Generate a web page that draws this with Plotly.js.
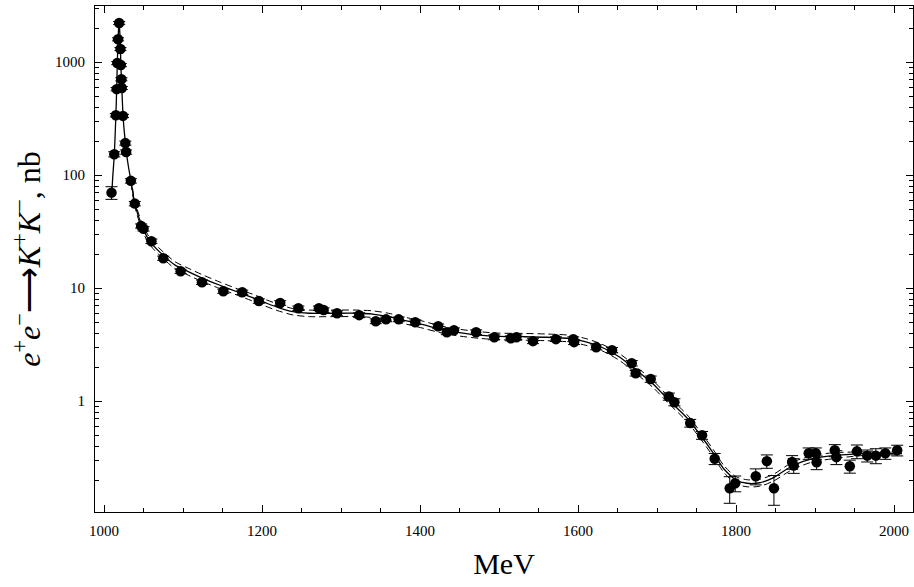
<!DOCTYPE html>
<html>
<head>
<meta charset="utf-8">
<script src="https://cdn.plot.ly/plotly-3.0.1.min.js"></script>
<style>body{margin:0;padding:0;background:#fff}#chart{width:914px;height:587px}</style>
</head>
<body>
<div id="chart"></div>
<script>
// Measured cross section points (MeV, nb) and errors
const dataE = [1009.5,1013,1015,1016,1016.8,1017.8,1019.2,1020.8,1021.3,1022,1022.5,1024,1027,1028,1034,1039,1047,1050,1060,1075,1097,1124,1151,1175,1196,1223,1246,1272,1278,1295,1323,1344,1357,1373,1394,1423,1434,1443,1471,1494,1515,1522,1543,1572,1594,1595,1623,1643,1668,1673,1692,1715,1722,1742,1757,1773,1792,1799,1825,1839,1848,1871,1873,1892,1901,1902,1925,1927,1944,1953,1966,1977,1989,2004];
const dataSigma = [70,153,339,576,980,1590,2215,1303,940,705,590,334,192,160,89,56,35.5,33.5,26,18.4,14.1,11.3,9.4,9.2,7.7,7.4,6.65,6.65,6.4,6.0,5.77,5.1,5.3,5.3,5.0,4.6,4.08,4.25,4.08,3.68,3.6,3.68,3.4,3.54,3.54,3.33,3.0,2.83,2.17,1.77,1.57,1.1,0.98,0.64,0.50,0.31,0.17,0.188,0.217,0.295,0.17,0.29,0.27,0.346,0.346,0.288,0.368,0.32,0.266,0.36,0.33,0.33,0.346,0.368];
const dataErr = [9,8,12,20,30,50,70,40,30,22,18,11,8,7,4,2.5,1.5,1.5,1.2,0.8,0.6,0.5,0.4,0.4,0.35,0.35,0.3,0.3,0.3,0.3,0.28,0.25,0.25,0.25,0.24,0.22,0.2,0.2,0.2,0.18,0.18,0.18,0.17,0.17,0.17,0.16,0.15,0.15,0.12,0.1,0.1,0.08,0.07,0.05,0.04,0.035,0.045,0.03,0.035,0.04,0.05,0.04,0.04,0.04,0.04,0.04,0.045,0.045,0.035,0.05,0.04,0.05,0.04,0.04];

// Fit curve (solid)
const fitE = [1009.5,1011,1013,1015,1016,1016.8,1017.8,1018.6,1019.3,1020.1,1020.8,1021.3,1022,1022.6,1024,1025.5,1027,1028.5,1031,1034,1039,1047,1055,1062,1075,1090,1105,1125,1147,1170,1189,1205,1219,1239,1260,1290,1320,1340,1360,1380,1404,1425,1450,1475,1500,1530,1560,1590,1610,1630,1653,1675,1695,1715,1738,1755,1771,1785,1800,1814,1830,1847,1872,1897,1923,1948,1973,2010];
const fitSigma = [62,95,150,335,570,970,1580,2050,2215,1750,1300,960,720,580,340,250,195,155,118,90,56,37,28,24,19.5,16,14.2,12.2,10.6,9.2,8.2,7.4,6.8,6.2,6.0,6.0,6.0,5.9,5.6,5.2,4.75,4.35,4.05,3.85,3.75,3.72,3.68,3.58,3.35,3.0,2.45,1.85,1.42,1.02,0.71,0.5,0.35,0.25,0.2,0.188,0.19,0.21,0.27,0.31,0.33,0.34,0.346,0.346];

// Error band (dashed)
const bandE = [1034,1039,1047,1055,1062,1075,1090,1105,1125,1147,1170,1189,1205,1219,1239,1260,1290,1320,1340,1360,1380,1404,1425,1450,1475,1500,1530,1560,1590,1610,1630,1653,1675,1695,1715,1738,1755,1771,1785,1800,1814,1830,1847,1872,1897,1923,1948,1973,2010];
const bandUpper = [96,59,39.5,30,25.7,20.9,17.1,15.2,13.1,11.3,9.8,8.8,7.9,7.3,6.6,6.4,6.4,6.4,6.3,6.0,5.55,5.1,4.65,4.33,4.12,4.0,3.98,3.93,3.83,3.58,3.2,2.62,1.98,1.52,1.09,0.76,0.535,0.375,0.268,0.215,0.202,0.204,0.225,0.29,0.33,0.35,0.355,0.357,0.357];
const bandLower = [85,53,34.5,26,22.4,18.2,14.9,13.2,11.4,9.9,8.6,7.65,6.9,6.35,5.8,5.6,5.6,5.6,5.5,5.2,4.85,4.42,4.05,3.77,3.6,3.5,3.47,3.43,3.34,3.12,2.8,2.28,1.72,1.32,0.95,0.66,0.465,0.325,0.233,0.186,0.175,0.177,0.196,0.25,0.29,0.31,0.325,0.335,0.335];

const font = 'Liberation Serif';

const traces = [
  {x: bandE, y: bandUpper, mode: 'lines', line: {color: '#000', width: 1, dash: '7px,4px', shape: 'spline', smoothing: 0.8}, hoverinfo: 'skip', showlegend: false},
  {x: bandE, y: bandLower, mode: 'lines', line: {color: '#000', width: 1, dash: '7px,4px', shape: 'spline', smoothing: 0.8}, hoverinfo: 'skip', showlegend: false},
  {x: fitE, y: fitSigma, mode: 'lines', line: {color: '#000', width: 1.3, shape: 'spline', smoothing: 0.6}, showlegend: false},
  {x: dataE, y: dataSigma, mode: 'markers', marker: {color: '#000', size: 10.5},
   error_y: {type: 'data', array: dataErr, visible: true, color: '#000', thickness: 1, width: 6}, showlegend: false}
];

const layout = {
  width: 914, height: 587,
  margin: {l: 95, r: 1, t: 6, b: 75},
  paper_bgcolor: '#fff', plot_bgcolor: '#fff',
  font: {family: font, color: '#000'},
  showlegend: false,
  xaxis: {
    range: [988.6, 2024], tick0: 1000, dtick: 200,
    ticks: 'inside', ticklen: 7, tickcolor: '#000', mirror: 'allticks',
    showline: true, linecolor: '#000', linewidth: 1, showgrid: false, zeroline: false,
    tickfont: {family: font, size: 15}, ticklabelstandoff: 5,
    minor: {dtick: 50, ticks: 'inside', ticklen: 4, tickcolor: '#000', showgrid: false},
    title: {text: 'MeV', font: {family: font, size: 30}, standoff: 14}
  },
  yaxis: {
    type: 'log', range: [-0.98, 3.496], dtick: 1, exponentformat: 'none',
    ticks: 'inside', ticklen: 7, tickcolor: '#000', mirror: 'allticks',
    showline: true, linecolor: '#000', linewidth: 1, showgrid: false, zeroline: false,
    tickfont: {family: font, size: 15}, ticklabelstandoff: 6,
    minor: {dtick: 'D1', ticks: 'inside', ticklen: 4, tickcolor: '#000', showgrid: false},
    title: {text: '<i>e</i><sup>+</sup><i>e</i><sup>−</sup>⟶<i>K</i><sup>+</sup><i>K</i><sup>−</sup>, nb', font: {family: font, size: 32}, standoff: 4}
  }
};

Plotly.newPlot('chart', traces, layout, {staticPlot: true});
</script>
</body>
</html>
